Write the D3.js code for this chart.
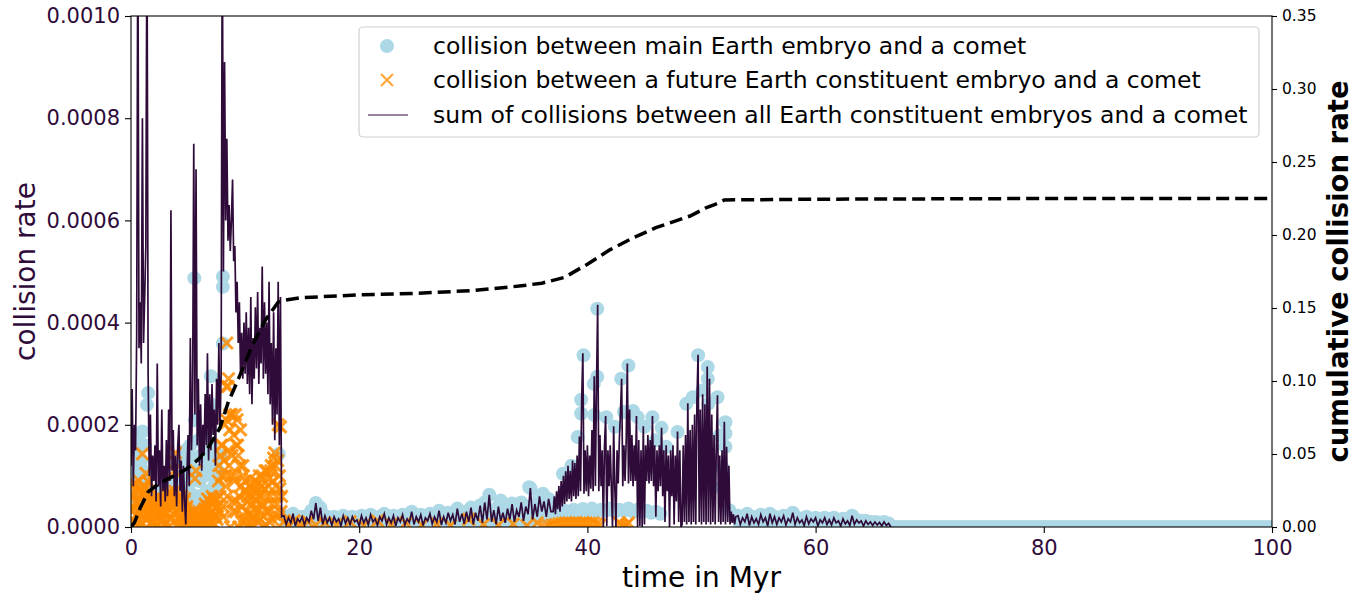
<!DOCTYPE html>
<html>
<head>
<meta charset="utf-8">
<script src="https://cdn.jsdelivr.net/npm/d3@7"></script>
<style>
  body { margin: 0; background: #fff; }
  text { font-family: "DejaVu Sans", sans-serif; }
</style>
</head>
<body>
<div id="chart"></div>
<script>
// collision rates are stored in units of 1e-4, time in Myr

// sum of collisions between all Earth constituent embryos and a comet
// t = 0.0 .. 13.2, every 0.1 Myr
var sumEarly = [
  1.2, 2.7, 0.8, 2.0, 1.5, 3.8, 12, 3.5, 4.4, 3.2,
  8.0, 3.6, 4.5, 5.5, 12, 3.0, 1.0, 2.2, 0.6, 1.4,
  0.9, 1.6, 0.5, 3.2, 0.8, 1.5, 0.4, 2.3, 0.7, 1.2,
  0.5, 1.7, 0.6, 2.3, 0.9, 6.2, 1.1, 1.9, 0.6, 1.4,
  0.4, 1.6, 2.0, 0.7, 1.3, 0.3, 1.2, 0.5, 0.05, 1.0,
  1.8, 0.8, 3.7, 1.5, 2.5, 7.5, 2.2, 7.0, 1.6, 2.9,
  1.2, 2.4, 1.1, 2.0, 1.4, 2.6, 1.6, 3.4, 1.3, 2.6,
  1.5, 2.8, 1.8, 2.3, 1.2, 2.9, 2.0, 3.6, 1.9, 3.0,
  12, 5.0, 9.1, 6.0, 7.6, 5.6, 6.3, 5.4, 6.0, 6.8,
  5.2, 5.5, 4.2, 4.8, 3.6, 4.4, 3.0, 3.8, 2.9, 4.0,
  3.0, 4.2, 2.8, 3.9, 2.6, 4.5, 2.4, 3.7, 2.9, 4.3,
  3.1, 4.6, 2.8, 3.9, 3.2, 5.1, 2.9, 4.4, 3.0, 4.0,
  2.6, 4.8, 2.4, 3.6, 2.0, 4.2, 1.7, 3.5, 2.2, 4.8,
  1.6, 4.5, 0.2
];
// t = 13.4 .. 36.8, every 0.2 Myr
var sumQuiet = [
  0.22, 0.05, 0.18, 0.08, 0.26, 0.02, 0.16, 0.1, 0.2, 0.04,
  0.18, 0.1, 0.32, 0.15, 0.47, 0.12, 0.38, 0.05, 0.22, 0.08,
  0.18, 0.03, 0.2, 0.1, 0.16, 0.02, 0.22, 0.07, 0.18, 0.05,
  0.2, 0.1, 0.14, 0.02, 0.22, 0.08, 0.18, 0.04, 0.24, 0.1,
  0.16, 0.03, 0.2, 0.12, 0.26, 0.05, 0.18, 0.08, 0.22, 0.02,
  0.18, 0.1, 0.24, 0.04, 0.16, 0.09, 0.3, 0.05, 0.2, 0.1,
  0.24, 0.03, 0.18, 0.12, 0.26, 0.06, 0.2, 0.1, 0.32, 0.04,
  0.2, 0.08, 0.28, 0.12, 0.24, 0.05, 0.36, 0.1, 0.26, 0.06,
  0.3, 0.1, 0.38, 0.05, 0.28, 0.12, 0.42, 0.08, 0.48, 0.15,
  0.63, 0.1, 0.33, 0.05, 0.4, 0.12, 0.28, 0.08, 0.36, 0.15,
  0.45, 0.1, 0.33, 0.2, 0.48, 0.12, 0.4, 0.25, 0.76, 0.15,
  0.45, 0.2, 0.6, 0.3, 0.5, 0.2, 0.55, 0.3
];
// t = 37.0 .. 53.0, every 0.1 Myr
var sumBurst = [
  0.3, 0.6, 0.25, 0.7, 0.35, 0.8, 0.3, 0.9, 0.4, 1.0,
  0.45, 1.09, 0.5, 1.2, 0.55, 1.1, 0.5, 1.3, 0.6, 1.25,
  0.55, 1.4, 0.6, 1.77, 0.7, 2.5, 3.4, 0.65, 1.5, 0.7,
  1.6, 0.6, 1.4, 0.75, 1.9, 0.7, 2.95, 0.8, 2.8, 4.35,
  0.7, 1.8, 0.8, 1.5, 0.0, 1.6, 2.17, 0.02, 1.5, 0.8,
  1.6, 0.75, 0.0, 1.97, 0.8, 0.0, 1.5, 0.85, 1.7, 2.26,
  2.9, 0.8, 1.6, 0.9, 1.7, 3.2, 0.85, 2.3, 0.9, 1.8,
  0.8, 1.6, 0.9, 2.17, 0.0, 1.7, 0.02, 1.5, 0.0, 1.97,
  0.05, 1.6, 0.9, 1.8, 0.85, 1.7, 0.9, 2.17, 0.8, 1.6,
  0.2, 1.5, 0.7, 1.6, 0.8, 1.94, 0.6, 1.5, 0.1, 1.6,
  0.7, 1.4, 0.0, 1.5, 0.6, 1.6, 0.05, 1.4, 0.5, 1.87,
  0.1, 1.5, 0.0, 0.05, 1.6, 0.1, 1.8, 0.05, 2.42, 0.1,
  1.9, 0.05, 2.0, 0.1, 2.2, 0.05, 2.5, 3.37, 0.1, 2.3,
  0.05, 2.6, 0.1, 2.4, 0.05, 3.14, 0.1, 2.9, 0.05, 2.2,
  0.1, 1.8, 0.05, 1.6, 2.58, 0.1, 1.4, 0.05, 1.5, 0.1,
  2.06, 0.05, 1.57, 0.1, 1.2, 0.05, 0.3, 0.08, 0.25, 0.05,
  0.2
];
// t = 53.2 .. 66.6, every 0.2 Myr
var sumLate = [
  0.22, 0.05, 0.18, 0.1, 0.26, 0.03, 0.2, 0.08, 0.16, 0.05,
  0.24, 0.1, 0.18, 0.02, 0.26, 0.08, 0.2, 0.05, 0.18, 0.1,
  0.22, 0.04, 0.16, 0.1, 0.28, 0.05, 0.18, 0.08, 0.14, 0.03,
  0.2, 0.06, 0.16, 0.1, 0.18, 0.02, 0.14, 0.08, 0.18, 0.05,
  0.14, 0.04, 0.18, 0.08, 0.12, 0.02, 0.16, 0.06, 0.12, 0.03,
  0.22, 0.05, 0.14, 0.08, 0.12, 0.02, 0.12, 0.05, 0.1, 0.03,
  0.1, 0.04, 0.09, 0.02, 0.1, 0.03, 0.07, 0.0
];

// collision between main Earth embryo and a comet
// t = 0.1 .. 1.7 and 4.4 .. 7.6, every 0.1 Myr
var mainEarlyA = [0.6, 1.0, 0.95, 1.5, 1.2, 1.7, 0.9, 1.57, 1.3, 1.87, 1.1, 1.6, 0.8, 2.39, 2.62, 1.0, 0.6];
var mainEarlyB = [
  1.0, 0.5, 1.3, 0.8, 1.5, 0.4, 1.2, 0.7, 1.6, 0.9,
  1.35, 0.5, 2.09, 1.1, 0.6, 1.7, 0.9, 1.4, 0.5, 1.8,
  1.0, 1.5, 0.7, 1.9, 1.2, 0.6, 1.6, 1.0, 1.4, 0.8,
  1.3, 0.7, 1.1
];
var mainPoints = [
  [2.0, 0.7], [2.5, 0.6], [3.0, 0.8], [3.5, 0.5], [4.0, 0.9],
  [5.55, 4.87], [7.0, 2.95], [7.0, 2.4], [7.8, 1.4], [8.05, 4.9], [8.05, 4.7], [8.05, 3.59],
  [12.95, 1.43],
  [32.4, 0.52], [33.4, 0.46], [34.9, 0.78], [36.1, 0.65],
  [37.85, 1.04], [38.6, 1.2], [39.15, 1.76], [39.45, 2.22], [39.45, 2.49], [39.66, 3.36],
  [40.56, 2.8], [40.6, 2.19], [40.86, 4.27], [40.86, 2.94], [41.65, 2.15], [42.4, 1.96],
  [42.96, 2.9], [43.2, 2.25], [43.6, 3.16], [44.0, 2.27], [44.4, 2.15], [45.0, 1.96],
  [45.7, 2.15], [46.0, 1.7], [46.5, 1.94], [46.9, 1.57], [47.9, 1.86], [48.66, 2.41],
  [49.24, 2.54], [49.7, 3.36], [50.1, 2.67], [50.4, 1.57], [50.55, 3.13], [50.55, 2.9],
  [50.6, 2.41], [50.7, 1.37], [51.0, 0.78], [51.4, 2.54], [51.6, 1.79], [51.8, 1.17],
  [52.1, 2.05], [52.1, 1.83], [52.1, 1.57], [52.45, 0.33],
  [37.2, 0.3], [37.6, 0.28], [38.0, 0.32], [38.4, 0.3], [38.8, 0.34], [39.2, 0.3],
  [39.6, 0.35], [40.0, 0.32], [40.4, 0.36], [40.8, 0.3], [41.2, 0.34], [41.6, 0.32],
  [42.0, 0.36], [42.4, 0.3], [42.8, 0.34], [43.2, 0.32], [43.6, 0.36], [44.0, 0.3],
  [44.4, 0.34], [44.8, 0.3], [45.2, 0.32], [45.6, 0.28], [46.0, 0.3], [46.4, 0.26]
];
var mainTailValue = 0;   // main embryo rate stays ~0 after 66.6 Myr

// collision between a future Earth constituent embryo and a comet
// t = 0.0 .. 13.2, every 0.1 Myr
var futureEarly = [
  0.8, 0.3, 0.6, 0.1, 0.75, 0.45, 0.2, 0.9, 0.55, 0.05,
  1.43, 0.35, 0.8, 1.05, 0.15, 0.6, 0.87, 0.3, 0.5, 0.1,
  0.55, 0.2, 0.45, 0.05, 0.6, 0.3, 0.5, 0.15, 0.4, 0.25,
  0.5, 0.1, 0.65, 0.35, 0.7, 0.2, 0.55, 0.4, 1.1, 1.45,
  0.3, 0.6, 0.15, 0.5, 0.05, 0.45, 0.25, 0.55, 0.1, 0.4,
  0.2, 0.3, 0.1, 0.25, 0.05, 0.3, 0.95, 1.1, 0.15, 0.2,
  0.1, 0.25, 0.05, 0.3, 0.15, 0.45, 0.2, 0.55, 0.35, 0.5,
  0.1, 0.6, 0.3, 0.5, 0.2, 0.55, 0.4, 1.2, 0.6, 1.6,
  1.6, 0.2, 2.0, 0.8, 3.6, 2.75, 1.2, 0.0, 2.2, 0.5,
  1.8, 1.0, 0.3, 2.1, 1.4, 0.6, 1.9, 0.1, 1.2, 0.7,
  0.9, 0.3, 0.6, 0.0, 0.8, 0.45, 0.15, 0.7, 0.35, 0.9,
  0.5, 0.1, 0.85, 0.6, 0.25, 1.0, 0.4, 0.75, 0.05, 1.1,
  0.3, 0.95, 0.6, 1.2, 0.15, 1.35, 1.45, 0.8, 0.45, 2.0,
  1.0, 1.96, 0.6
];
// t = 0.05 .. 13.15, every 0.1 Myr
var futureEarlyB = [
  0.15, 0.65, 0.4, 0.85, 0.0, 0.5, 0.7, 0.25, 0.35, 0.65,
  0.2, 0.7, 0.45, 0.0, 0.9, 0.25, 0.4, 0.55, 0.05, 0.35,
  0.1, 0.35, 0.0, 0.5, 0.2, 0.55, 0.1, 0.45, 0.3, 0.05,
  0.3, 0.45, 0.0, 0.55, 0.15, 0.4, 0.6, 0.25, 0.7, 0.5,
  0.55, 0.05, 0.4, 0.2, 0.6, 0.15, 0.5, 0.0, 0.35, 0.2,
  0.1, 0.0, 0.25, 0.05, 0.2, 0.1, 0.3, 0.05, 0.25, 0.0,
  0.2, 0.0, 0.15, 0.05, 0.35, 0.1, 0.4, 0.05, 0.25, 0.1,
  0.45, 0.2, 0.55, 0.05, 0.4, 0.15, 0.9, 0.3, 1.4, 1.0,
  0.4, 1.3, 1.0, 2.1, 0.6, 1.5, 1.9, 1.0, 1.4, 0.3,
  0.9, 2.2, 0.5, 1.6, 0.0, 1.2, 0.8, 0.4, 1.0, 0.2,
  0.1, 0.7, 0.5, 0.25, 0.95, 0.05, 0.6, 0.2, 0.8, 0.55,
  0.7, 0.35, 1.0, 0.15, 0.8, 0.45, 0.0, 1.1, 0.6, 0.3,
  0.8, 0.1, 1.1, 0.45, 0.9, 0.25, 1.2, 0.6, 1.3, 0.2,
  0.75, 0.3
];
var futurePoints = [
  [8.55, 2.9], [8.35, 2.75], [8.65, 2.2], [9.25, 1.6],
  [13.4, 0.1], [13.8, 0.05], [14.3, 0.12], [14.9, 0.06], [15.5, 0.1], [16.2, 0.04],
  [17.0, 0.08], [18.0, 0.05], [19.2, 0.1], [20.4, 0.03], [21.6, 0.12], [22.8, 0.05],
  [24.1, 0.08], [25.5, 0.04], [26.8, 0.06], [28.0, 0.03], [29.6, 0.15], [30.9, 0.05],
  [32.2, 0.04], [33.5, 0.06], [34.7, 0.03], [35.6, 0.08],
  [36.3, 0.0], [36.6, 0.02], [36.9, 0.04], [37.2, 0.05], [37.5, 0.06], [37.8, 0.07],
  [38.1, 0.08], [38.4, 0.08], [38.7, 0.07], [39.0, 0.08], [39.3, 0.07], [39.6, 0.08],
  [39.9, 0.08], [40.2, 0.07], [40.5, 0.08], [40.8, 0.06], [41.1, 0.04],
  [42.8, 0.08], [43.0, 0.04], [43.2, 0.0], [43.4, 0.04], [43.6, 0.08]
];

// cumulative collision rate (right axis)
var cumTime = [0, 0.3, 0.8, 1.5, 2.5, 3.5, 4.5, 5.1, 6.0, 6.9, 7.8, 8.5, 9.5, 10.6, 11.8, 12.9, 13.2,
  14.8, 20, 25, 30, 34, 36, 38, 40, 42, 44, 46, 47.5, 49, 50.5, 51.2, 52.0, 60, 80, 100];
var cumRate = [0, 0.003, 0.013, 0.024, 0.030, 0.034, 0.038, 0.041, 0.047, 0.056, 0.068, 0.085, 0.103,
  0.124, 0.142, 0.154, 0.155, 0.157, 0.159, 0.160, 0.162, 0.165, 0.167, 0.171, 0.180, 0.190, 0.198,
  0.205, 0.209, 0.213, 0.219, 0.221, 0.224, 0.2245, 0.225, 0.225];

var xTicks = [0, 20, 40, 60, 80, 100];
var leftTicks = [0, 2, 4, 6, 8, 10];
var rightTicks = [0, 0.05, 0.1, 0.15, 0.2, 0.25, 0.3, 0.35];
var legendLabels = [
  "collision between main Earth embryo and a comet",
  "collision between a future Earth constituent embryo and a comet",
  "sum of collisions between all Earth constituent embryos and a comet"
];

// turn an evenly sampled list into [t, v] pairs
function sampled(t0, dt, values) {
  return values.map(function (v, i) { return [t0 + i * dt, v]; });
}

var sumData = [].concat(
  sampled(0, 0.1, sumEarly),
  sampled(13.4, 0.2, sumQuiet),
  sampled(37.0, 0.1, sumBurst),
  sampled(53.2, 0.2, sumLate)
);
// the main embryo carries the whole sum in the quiet stretches
var mainData = [].concat(
  sampled(0.1, 0.1, mainEarlyA),
  sampled(4.4, 0.1, mainEarlyB),
  mainPoints,
  sampled(13.4, 0.2, sumQuiet),
  sampled(53.2, 0.2, sumLate),
  d3.range(66.8, 100.01, 0.4).map(function (t) { return [t, mainTailValue]; })
);
var futureData = [].concat(
  sampled(0, 0.1, futureEarly),
  sampled(0.05, 0.1, futureEarlyB),
  futurePoints
);
var cumData = cumTime.map(function (t, i) { return [t, cumRate[i]]; });

var W = 1359, H = 593;
var margin = { top: 16, right: 87, bottom: 66, left: 131 };
var width = W - margin.left - margin.right,
  height = H - margin.top - margin.bottom;
var purple = "#2f0b3a";

var svg = d3.select("#chart").append("svg")
  .attr("width", W)
  .attr("height", H);

var g = svg.append("g")
  .attr("transform", "translate(" + margin.left + "," + margin.top + ")");

var x = d3.scaleLinear().domain([0, 100]).range([0, width]);
var yL = d3.scaleLinear().domain([0, 10]).range([height, 0]);
var yR = d3.scaleLinear().domain([0, 0.35]).range([height, 0]);

g.append("clipPath").attr("id", "plotclip")
  .append("rect").attr("width", width).attr("height", height);

var plot = g.append("g").attr("clip-path", "url(#plotclip)");

// main embryo collisions
plot.append("g")
  .selectAll("circle")
  .data(mainData)
  .enter()
  .append("circle")
  .attr("cx", function (d) { return x(d[0]); })
  .attr("cy", function (d) { return yL(d[1]); })
  .attr("r", 7)
  .style("fill", "#add8e6");

// future constituent collisions, x markers
var xs = 6;
plot.append("g")
  .selectAll("path")
  .data(futureData)
  .enter()
  .append("path")
  .attr("d", function (d) {
    var cx = x(d[0]), cy = yL(d[1]);
    return "M" + (cx - xs) + "," + (cy - xs) + "L" + (cx + xs) + "," + (cy + xs) +
      "M" + (cx - xs) + "," + (cy + xs) + "L" + (cx + xs) + "," + (cy - xs);
  })
  .style("stroke", "#ff8c00")
  .style("stroke-width", 3)
  .style("stroke-opacity", 0.85)
  .style("fill", "none");

// sum line
plot.append("path")
  .datum(sumData)
  .attr("d", d3.line()
    .x(function (d) { return x(d[0]); })
    .y(function (d) { return yL(d[1]); }))
  .style("fill", "none")
  .style("stroke", purple)
  .style("stroke-width", 1.7);

// cumulative, dashed
plot.append("path")
  .datum(cumData)
  .attr("d", d3.line()
    .x(function (d) { return x(d[0]); })
    .y(function (d) { return yR(d[1]); }))
  .style("fill", "none")
  .style("stroke", "#000")
  .style("stroke-width", 3.5)
  .style("stroke-dasharray", "13,6");

// axes
var xAxis = g.append("g")
  .attr("transform", "translate(0," + height + ")")
  .call(d3.axisBottom(x).tickValues(xTicks).tickSize(6).tickPadding(7).tickSizeOuter(0));
xAxis.selectAll("text").style("fill", purple).style("font-size", "21px");

var leftAxis = g.append("g")
  .call(d3.axisLeft(yL).tickValues(leftTicks).tickSize(6).tickPadding(5).tickSizeOuter(0)
    .tickFormat(function (d) { return (d * 1e-4).toFixed(4); }));
leftAxis.selectAll("text").style("fill", purple).style("font-size", "21px");

var rightAxis = g.append("g")
  .attr("transform", "translate(" + width + ",0)")
  .call(d3.axisRight(yR).tickValues(rightTicks).tickSize(5).tickPadding(5).tickSizeOuter(0)
    .tickFormat(function (d) { return d.toFixed(2); }));
rightAxis.selectAll("text").style("fill", "#000").style("font-size", "15.5px");

svg.selectAll(".domain").remove();
svg.selectAll(".tick line").style("stroke", "#000").style("stroke-width", 1.1);
svg.selectAll(".tick text").style("font-family", "DejaVu Sans");

g.append("rect")
  .attr("width", width)
  .attr("height", height)
  .style("fill", "none")
  .style("stroke", "#000")
  .style("stroke-width", 1.1);

// axis labels
svg.append("text")
  .attr("x", margin.left + width / 2)
  .attr("y", 587)
  .attr("text-anchor", "middle")
  .style("font-size", "28px")
  .style("fill", "#000")
  .text("time in Myr");

svg.append("text")
  .attr("transform", "translate(35," + (margin.top + height / 2) + ") rotate(-90)")
  .attr("text-anchor", "middle")
  .style("font-size", "28px")
  .style("fill", purple)
  .text("collision rate");

svg.append("text")
  .attr("transform", "translate(1348," + (margin.top + height / 2) + ") rotate(-90)")
  .attr("text-anchor", "middle")
  .style("font-size", "27.5px")
  .style("font-weight", "bold")
  .style("fill", "#000")
  .text("cumulative collision rate");

// legend
var legend = svg.append("g");
legend.append("rect")
  .attr("x", 359).attr("y", 27)
  .attr("width", 900).attr("height", 110)
  .attr("rx", 4)
  .style("fill", "#fff")
  .style("fill-opacity", 0.8)
  .style("stroke", "#d0d0d0")
  .style("stroke-width", 1.2);

var rowY = [46, 80, 115];
legend.append("circle")
  .attr("cx", 387).attr("cy", rowY[0]).attr("r", 7)
  .style("fill", "#add8e6");
legend.append("path")
  .attr("d", "M381," + (rowY[1] - 6) + "L393," + (rowY[1] + 6) + "M381," + (rowY[1] + 6) + "L393," + (rowY[1] - 6))
  .style("stroke", "#ff8c00").style("stroke-width", 2).style("stroke-opacity", 0.8);
legend.append("line")
  .attr("x1", 368).attr("x2", 408)
  .attr("y1", rowY[2]).attr("y2", rowY[2])
  .style("stroke", purple).style("stroke-width", 1.2);

legend.selectAll("text.lbl")
  .data(legendLabels)
  .enter()
  .append("text")
  .attr("class", "lbl")
  .attr("x", 433)
  .attr("y", function (d, i) { return rowY[i] + 8; })
  .style("font-size", "23.5px")
  .style("fill", "#000")
  .text(function (d) { return d; });
</script>
</body>
</html>
